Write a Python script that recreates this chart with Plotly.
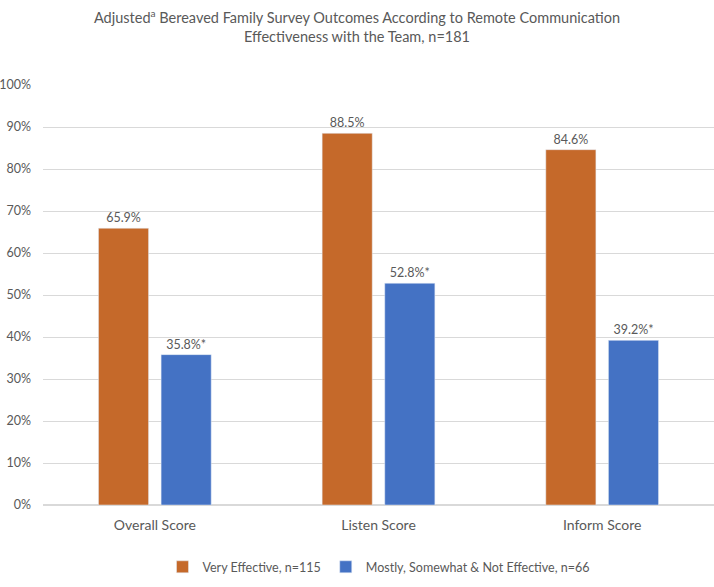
import plotly.graph_objects as go

categories = ["Overall Score", "Listen Score", "Inform Score"]
very_effective = [0.659, 0.885, 0.846]
not_effective = [0.358, 0.528, 0.392]
very_labels = ["65.9%", "88.5%", "84.6%"]
not_labels = ["35.8%*", "52.8%*", "39.2%*"]
series_names = ["Very Effective, n=115", "Mostly, Somewhat & Not Effective, n=66"]
tick_vals = [i / 10 for i in range(11)]
tick_text = [f"{i*10}%" for i in range(11)]

FONT = "Lato, 'Open Sans', sans-serif"
GRAY = "#595959"

fig = go.Figure()
fig.add_trace(go.Bar(x=categories, y=very_effective, name=series_names[0],
                     marker_color="#C5692A", text=very_labels, textposition="outside",
                     textfont=dict(size=12.5, color=GRAY, family=FONT), cliponaxis=False))
fig.add_trace(go.Bar(x=categories, y=not_effective, name=series_names[1],
                     marker_color="#4472C4", text=not_labels, textposition="outside",
                     textfont=dict(size=12.5, color=GRAY, family=FONT), cliponaxis=False))

fig.update_layout(
    width=714, height=587,
    margin=dict(l=43, r=0, t=85, b=82, autoexpand=False),
    paper_bgcolor="white", plot_bgcolor="white",
    font=dict(family=FONT, color=GRAY, size=13),
    title=dict(text="Adjusted<sup>a</sup> Bereaved Family Survey Outcomes According to Remote Communication<br>Effectiveness with the Team, n=181",
               x=0.5, xanchor="center", y=0.961, yanchor="top",
               font=dict(size=14.5, color=GRAY, family=FONT)),
    barmode="group", bargap=0.44, bargroupgap=0.2,
    legend=dict(orientation="h", x=0.5, xanchor="center", y=-0.148, yanchor="middle",
                font=dict(size=12.5, color=GRAY, family=FONT), itemwidth=30,
                traceorder="normal"),
    xaxis=dict(showgrid=False, showline=False, ticks="", automargin=False,
               tickfont=dict(size=14, color=GRAY), ticklabelstandoff=10),
    yaxis=dict(range=[0, 1], tickvals=tick_vals, ticktext=tick_text, showgrid=True,
               gridcolor="#D9D9D9", gridwidth=1, zeroline=True, zerolinecolor="#D9D9D9",
               showline=False, ticks="", automargin=False,
               tickfont=dict(size=12.5, color=GRAY), ticklabelstandoff=11),
)

fig.write_html("out.html", config={"displayModeBar": False},
               post_script="document.body.style.margin='0';")
